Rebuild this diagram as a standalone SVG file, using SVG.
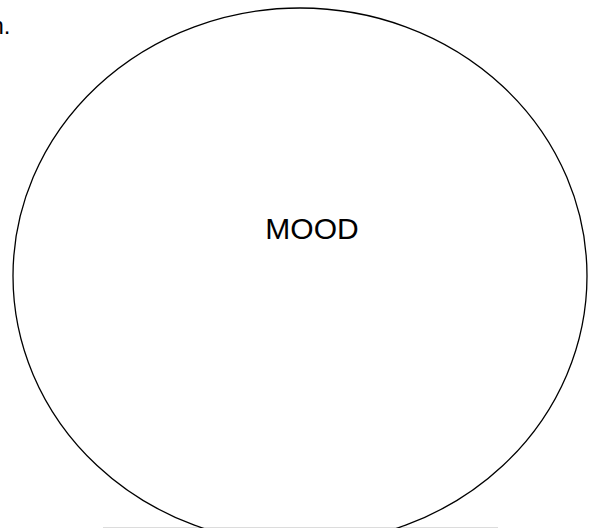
<svg xmlns="http://www.w3.org/2000/svg" width="589" height="528" viewBox="0 0 589 528">
<style>
.lbl{font-family:"Liberation Sans",Arial,sans-serif;fill:#000}
</style>
<rect width="589" height="528" fill="#fff"/>
<text class="lbl" x="10.4" y="34" font-size="24" text-anchor="end">n.</text>
<g id="connectors">
<line x1="103" y1="527.5" x2="498" y2="527.5" stroke="#dcdcdc" stroke-width="1"/>
</g>
<g id="mood">
<ellipse cx="300" cy="276" rx="287" ry="268" fill="none" stroke="#000" stroke-width="1.3"/>
<text class="lbl" x="312" y="238.5" font-size="30" text-anchor="middle">MOOD</text>
</g>
</svg>
